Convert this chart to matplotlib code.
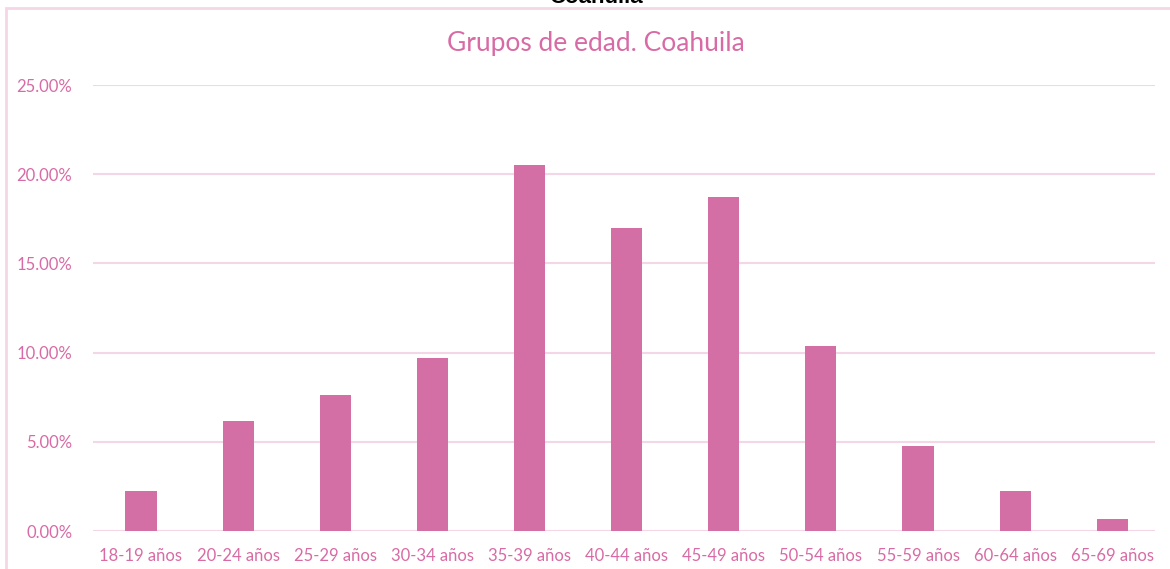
import numpy as np
from matplotlib import pyplot as plt
from matplotlib.patches import Rectangle
from matplotlib.ticker import PercentFormatter

grupos = ["18-19 años", "20-24 años", "25-29 años", "30-34 años", "35-39 años",
          "40-44 años", "45-49 años", "50-54 años", "55-59 años", "60-64 años",
          "65-69 años"]
porcentaje = [2.22, 6.17, 7.62, 9.70, 20.52, 16.98, 18.72, 10.37, 4.75, 2.22, 0.66]

rosa = "#D46FA6"
texto = "#D86BA5"
rejilla = "#F4D6E6"

plt.rcParams['font.family'] = ['Lato', 'DejaVu Sans']

fig = plt.figure(figsize=(11.7, 5.69), dpi=100)
ax = fig.add_axes([93/1170, 1 - 531/569, (1155 - 93)/1170, (531 - 85)/569])

x = np.arange(len(grupos))
ax.bar(x, porcentaje, width=0.32, color=rosa, zorder=3)

ax.set_xlim(-0.494, 10.44)
ax.set_ylim(0, 25)
ax.set_yticks(np.arange(0, 26, 5))
ax.yaxis.set_major_formatter(PercentFormatter(decimals=2))
ax.set_xticks(x)
ax.set_xticklabels(grupos)
ax.grid(axis='y', color=rejilla, linewidth=1.5, zorder=0)
ax.tick_params(axis='both', length=0, colors=texto, labelsize=12)
ax.tick_params(axis='y', pad=15)
ax.tick_params(axis='x', pad=12)
for s in ax.spines.values():
    s.set_visible(False)

# marco del grafico (sale de la imagen por la derecha y abajo)
fig.patches.append(Rectangle((6/1170, -0.1), 1.2, 1 - 8/569 + 0.1,
                             transform=fig.transFigure, fill=False,
                             edgecolor=rejilla, linewidth=2))

fig.text(596/1170, 1 - 43/569, "Grupos de edad. Coahuila", color=texto,
         fontsize=19, ha='center', va='center')
fig.text(596/1170, 1 - 3/569, "Coahuila", color="black", fontsize=16,
         fontweight='bold', family=['Liberation Sans', 'DejaVu Sans'],
         ha='center', va='baseline')

fig.savefig("out.png", dpi=100)
